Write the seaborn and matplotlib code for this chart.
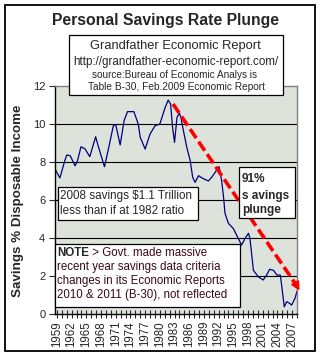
import matplotlib
matplotlib.use("Agg")
import matplotlib.pyplot as plt
from matplotlib.patches import Rectangle
from matplotlib.ticker import MultipleLocator, FixedLocator
import seaborn as sns
import pandas as pd

# ---------------- data ----------------
years = [1958.6, 1959.6, 1960.6, 1961.0, 1961.7, 1962.7, 1963.2, 1963.9, 1964.7, 1965.7,
         1966.9, 1967.4, 1968.7, 1969.5, 1970.5, 1971.0, 1971.9, 1972.7, 1973.4, 1974.7,
         1975.6, 1976.0, 1977.0, 1978.0, 1979.0, 1980.0, 1981.1, 1981.7, 1982.2, 1982.6,
         1983.0, 1983.5, 1984.0, 1984.3, 1984.7, 1985.5, 1986.2, 1986.7, 1987.2, 1987.9,
         1988.6, 1989.9, 1990.6, 1991.3, 1991.7, 1992.1, 1992.6, 1993.0, 1993.3, 1994.0,
         1995.0, 1996.0, 1996.7, 1997.4, 1998.1, 1998.4, 1998.8, 1999.1, 2000.1, 2001.1,
         2001.8, 2002.4, 2003.2, 2003.9, 2004.6, 2004.9, 2005.4, 2005.9, 2006.5, 2006.9,
         2007.6, 2008.0]
savings_rate = [7.63, 7.16, 8.07, 8.37, 8.33, 7.8, 8.07, 8.8, 8.7, 8.28,
                9.33, 8.86, 7.75, 8.68, 9.9, 9.97, 8.9, 10.17, 10.65, 10.65,
                10.0, 9.3, 8.68, 9.47, 9.9, 10.0, 10.88, 11.26, 11.05, 9.82,
                9.03, 10.35, 10.56, 10.35, 9.8, 8.77, 8.07, 7.2, 6.93, 7.28,
                7.16, 7.0, 7.2, 7.46, 7.63, 7.75, 7.05, 6.17, 5.3, 4.77,
                4.5, 3.98, 3.63, 3.98, 4.25, 3.98, 3.02, 2.3, 1.96, 1.79,
                2.05, 2.35, 2.3, 2.05, 2.05, 1.44, 0.38, 0.65, 0.56, 0.47,
                0.83, 1.2]
tick_years = list(range(1959, 2008, 3))
y_ticks = [0, 2, 4, 6, 8, 10, 12]
trend_start = (1982.7, 11.05)
trend_end = (2008.8, 1.1)

title = "Personal Savings Rate Plunge"
ylabel = "Savings % Disposable Income"

# ---------------- style ----------------
sns.set_style("white")
plt.rcParams["font.family"] = ["Liberation Sans", "DejaVu Sans"]

W, H = 323, 357
fig = plt.figure(figsize=(W / 100, H / 100), dpi=100)
fig.patch.set_facecolor("white")


def fx(px):
    return px / W


def fy(py):
    return 1 - py / H


ax = fig.add_axes([fx(55), fy(314), (297 - 55) / W, (314 - 86) / H])
ax.set_facecolor("#dde3db")

df = pd.DataFrame({"year": years, "rate": savings_rate})
sns.lineplot(data=df, x="year", y="rate", ax=ax, sort=False, estimator=None,
             color="#000080", linewidth=0.9)

ax.set_xlim(1958.6, 2008.0)
ax.set_ylim(0, 12)
ax.set_xlabel("")
ax.set_ylabel("")

# grid lines
for yv in y_ticks[1:-1]:
    ax.axhline(yv, color="black", linewidth=0.8, zorder=1)

ax.yaxis.set_major_locator(FixedLocator(y_ticks))
ax.set_yticklabels([str(v) for v in y_ticks], fontsize=8)
ax.tick_params(axis="y", direction="out", length=4, width=0.8, pad=3, left=True)

ax.xaxis.set_major_locator(FixedLocator(tick_years))
ax.xaxis.set_minor_locator(MultipleLocator(1))
ax.set_xticklabels([str(v) for v in tick_years], rotation=90, fontsize=8.3)
ax.tick_params(axis="x", which="both", direction="inout", length=6, width=0.8,
               pad=2, bottom=True)

for s in ["left", "bottom"]:
    ax.spines[s].set_color("black")
    ax.spines[s].set_linewidth(1.0)
for s in ["top", "right"]:
    ax.spines[s].set_color("#808080")
    ax.spines[s].set_linewidth(1.0)

# red dashed trend arrow
ax.plot([trend_start[0], trend_end[0] - 0.9], [trend_start[1], trend_end[1] + 0.4],
        color="red", linestyle=(0, (3, 1.2)), linewidth=2.6, clip_on=False, zorder=4)
ax.annotate("", xy=trend_end, xytext=(trend_end[0] - 1.2, trend_end[1] + 0.55),
            arrowprops=dict(arrowstyle="-|>", color="red", lw=1.5, mutation_scale=12),
            annotation_clip=False, zorder=4)

# y label
fig.text(fx(18), fy(201), ylabel, rotation=90, ha="center", va="center",
         fontsize=9.6, fontweight="bold")

# title
fig.text(fx(165), fy(25), title, ha="center", va="baseline", fontsize=11.3,
         fontweight="bold")


def box(x0, y0, x1, y1, lw=0.9):
    r = Rectangle((fx(x0), fy(y1)), fx(x1) - fx(x0), fy(y0) - fy(y1),
                  transform=fig.transFigure, facecolor="white", edgecolor="black",
                  linewidth=lw, zorder=5)
    fig.add_artist(r)


# source box
box(69, 35, 283, 95)
fig.text(fx(175), fy(49.5), "Grandfather Economic Report", ha="center", va="baseline",
         fontsize=9.3, zorder=6)
fig.text(fx(175.5), fy(65), "http://grandfather-economic-report.com/", ha="center",
         va="baseline", fontsize=8.4, zorder=6)
fig.text(fx(174.5), fy(77.5), "source:Bureau of Economic Analys is", ha="center",
         va="baseline", fontsize=7.2, zorder=6)
fig.text(fx(176.5), fy(90.5), "Table B-30, Feb.2009 Economic Report", ha="center",
         va="baseline", fontsize=7.3, zorder=6)

# 2008 savings box
box(58, 187, 198, 220)
fig.text(fx(60.5), fy(199.5), "2008 savings $1.1 Trillion", ha="left", va="baseline",
         fontsize=8.4, zorder=6)
fig.text(fx(60.5), fy(214), "less than if at 1982 ratio", ha="left", va="baseline",
         fontsize=8.4, zorder=6)

# 91% box
box(239, 167, 295, 218)
for txt, yb in [("91%", 181.5), ("s avings", 199), ("plunge", 213)]:
    fig.text(fx(242), fy(yb), txt, ha="left", va="baseline", fontsize=8.5,
             fontweight="bold", zorder=6)

# note box
box(55, 244, 240, 307)
note_col = "#3a0a14"
t_note = fig.text(fx(57.3), fy(256), "NOTE", ha="left", va="baseline", fontsize=8.3,
                  fontweight="bold", zorder=6)
fig.canvas.draw()
bb = t_note.get_window_extent()
fig.text(bb.x1 / W, fy(256), " > Govt. made massive", ha="left", va="baseline",
         fontsize=8.3, color=note_col, zorder=6)
for txt, yb in [("recent year savings data criteria", 270),
                ("changes in its Economic Reports", 284),
                ("2010 & 2011 (B-30), not reflected", 298.3)]:
    fig.text(fx(57), fy(yb), txt, ha="left", va="baseline", fontsize=8.3,
             color=note_col, zorder=6)

# outer frame
frame = Rectangle((fx(5), fy(351)), fx(315) - fx(5), fy(5) - fy(351),
                  transform=fig.transFigure, facecolor="none", edgecolor="black",
                  linewidth=1.3, zorder=7)
fig.add_artist(frame)

fig.savefig("out.png", dpi=100)
